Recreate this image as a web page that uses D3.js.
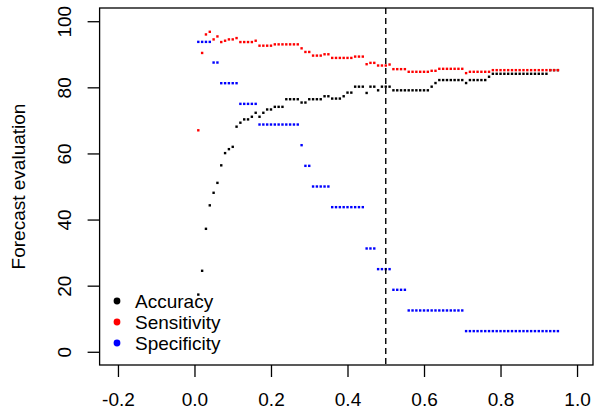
<!DOCTYPE html>
<html>
<head>
<meta charset="utf-8">
<script src="https://cdn.jsdelivr.net/npm/d3@7"></script>
<style>
  body { margin: 0; background: #fff; }
  svg { display: block; font-family: "Liberation Sans", Arial, sans-serif; }
</style>
</head>
<body>
<div id="chart"></div>
<script>
// cut-off thresholds on the x axis
var threshold = [0.01,0.02,0.03,0.04,0.05,0.06,0.07,0.08,0.09,0.10,
                 0.11,0.12,0.13,0.14,0.15,0.16,0.17,0.18,0.19,0.20,
                 0.21,0.22,0.23,0.24,0.25,0.26,0.27,0.28,0.29,0.30,
                 0.31,0.32,0.33,0.34,0.35,0.36,0.37,0.38,0.39,0.40,
                 0.41,0.42,0.43,0.44,0.45,0.46,0.47,0.48,0.49,0.50,
                 0.51,0.52,0.53,0.54,0.55,0.56,0.57,0.58,0.59,0.60,
                 0.61,0.62,0.63,0.64,0.65,0.66,0.67,0.68,0.69,0.70,
                 0.71,0.72,0.73,0.74,0.75,0.76,0.77,0.78,0.79,0.80,
                 0.81,0.82,0.83,0.84,0.85,0.86,0.87,0.88,0.89,0.90,
                 0.91,0.92,0.93,0.94,0.95]

var accuracy = [17.3,24.5,37.2,44.3,48.1,51.1,56.4,60.1,61.3,62.0,
                68.1,69.3,70.3,70.3,71.1,72.3,71.1,72.3,73.3,73.3,
                74.1,74.1,74.1,76.4,76.4,76.4,76.4,75.4,75.4,76.4,
                76.4,76.4,76.4,77.3,77.3,76.6,76.6,76.6,77.3,78.4,
                78.4,80.2,80.2,80.2,78.3,80.2,80.2,79.1,80.2,80.2,
                80.2,79.1,79.1,79.1,79.1,79.1,79.1,79.1,79.1,79.1,
                79.1,80.2,81.3,82.2,82.2,82.2,82.2,82.2,82.2,82.2,
                81.3,82.2,82.2,82.2,82.2,82.2,83.2,84.1,84.1,84.1,
                84.1,84.1,84.1,84.1,84.1,84.1,84.1,84.1,84.1,84.1,
                84.1,84.1,85.2,85.2,85.2]

var sensitivity = [67.0,90.4,96.0,96.8,94.5,95.4,93.7,94.1,94.5,94.5,
                   94.9,93.7,93.7,93.7,93.7,94.1,92.6,92.6,92.6,92.6,
                   93.0,93.0,93.0,93.0,93.0,93.0,93.0,91.8,90.7,90.7,
                   89.6,89.6,89.6,90.0,90.0,88.9,88.9,88.9,88.9,88.9,
                   88.9,89.3,89.3,89.3,87.0,87.4,87.4,86.6,86.6,86.6,
                   86.9,85.5,85.5,85.5,85.5,84.7,84.7,84.7,84.7,84.7,
                   84.7,85.0,85.0,85.6,85.6,85.6,85.6,85.6,85.6,85.6,
                   84.3,84.7,84.7,84.7,84.7,84.7,84.7,85.2,85.2,85.2,
                   85.2,85.2,85.2,85.2,85.2,85.2,85.2,85.2,85.2,85.2,
                   85.2,85.2,85.2,85.2,85.2]

var specificity = [93.75,93.75,93.75,93.75,87.5,87.5,81.25,81.25,81.25,81.25,
                   81.25,75,75,75,75,75,68.75,68.75,68.75,68.75,
                   68.75,68.75,68.75,68.75,68.75,68.75,68.75,62.5,56.25,56.25,
                   50,50,50,50,50,43.75,43.75,43.75,43.75,43.75,
                   43.75,43.75,43.75,43.75,31.25,31.25,31.25,25,25,25,
                   25,18.75,18.75,18.75,18.75,12.5,12.5,12.5,12.5,12.5,
                   12.5,12.5,12.5,12.5,12.5,12.5,12.5,12.5,12.5,12.5,
                   6.25,6.25,6.25,6.25,6.25,6.25,6.25,6.25,6.25,6.25,
                   6.25,6.25,6.25,6.25,6.25,6.25,6.25,6.25,6.25,6.25,
                   6.25,6.25,6.25,6.25,6.25]

var xTicks = [-0.2, 0.0, 0.2, 0.4, 0.6, 0.8, 1.0]
var yTicks = [0, 20, 40, 60, 80, 100]
var cutoff = 0.5

var seriesNames = ["Accuracy", "Sensitivity", "Specificity"]
var seriesColors = ["black", "red", "blue"]
var seriesValues = [accuracy, sensitivity, specificity]

var width = 594, height = 412

var svg = d3.select("#chart").append("svg")
            .attr("width", width)
            .attr("height", height)

// R style: usr range padded by 4% on each side
var x = d3.scaleLinear().domain([-0.248, 1.048]).range([99.6, 595.4])
var y = d3.scaleLinear().domain([-4, 104]).range([365, 8])

var fontSize = 19

// points, one group per series
seriesValues.forEach(function(vals, k) {
  svg.append("g")
     .selectAll("rect")
     .data(vals)
     .enter()
     .append("rect")
     .attr("x", function(d, i) { return x(threshold[i]) - 1.2 })
     .attr("y", function(d) { return y(d) - 1.2 })
     .attr("width", 2.4)
     .attr("height", 2.4)
     .attr("fill", seriesColors[k])
})

// dashed cut-off line
svg.append("line")
   .attr("x1", x(cutoff)).attr("x2", x(cutoff))
   .attr("y1", y(104)).attr("y2", y(-4))
   .attr("stroke", "black")
   .attr("stroke-width", 1.4)
   .attr("stroke-dasharray", "6,4")

// box
svg.append("rect")
   .attr("x", x(-0.248))
   .attr("y", y(104))
   .attr("width", 593 - x(-0.248))
   .attr("height", y(-4) - y(104))
   .attr("fill", "none")
   .attr("stroke", "black")
   .attr("stroke-width", 1.3)

// x axis
var xAxis = svg.append("g")
   .attr("transform", "translate(0," + y(-4) + ")")
   .call(d3.axisBottom(x).tickValues(xTicks).tickSize(12).tickPadding(16)
           .tickFormat(function(d) { return d.toFixed(1) }))
xAxis.select(".domain").remove()
xAxis.selectAll("line").attr("stroke", "black").attr("stroke-width", 1.3)
xAxis.selectAll("text").attr("font-size", fontSize).attr("fill", "black")
     .attr("font-family", "Liberation Sans, Arial, sans-serif")

// y axis, labels parallel to the axis
var yAxis = svg.append("g")
   .attr("transform", "translate(" + x(-0.248) + ",0)")
   .call(d3.axisLeft(y).tickValues(yTicks).tickSize(12))
yAxis.select(".domain").remove()
yAxis.selectAll("line").attr("stroke", "black").attr("stroke-width", 1.3)
yAxis.selectAll("text")
     .attr("x", null).attr("dy", null)
     .attr("transform", "translate(-29,0) rotate(-90)")
     .attr("text-anchor", "middle")
     .attr("font-size", fontSize).attr("fill", "black")
     .attr("font-family", "Liberation Sans, Arial, sans-serif")

// y title
svg.append("text")
   .attr("transform", "translate(25," + ((y(104) + y(-4)) / 2) + ") rotate(-90)")
   .attr("text-anchor", "middle")
   .attr("font-size", fontSize)
   .attr("fill", "black")
   .text("Forecast evaluation")

// legend, bottom left, no box
var legend = svg.append("g")
var leg = legend.selectAll("g")
   .data(seriesNames)
   .enter()
   .append("g")
   .attr("transform", function(d, i) { return "translate(117," + (301 + i * 21) + ")" })
leg.append("circle")
   .attr("r", 3.4)
   .attr("fill", function(d, i) { return seriesColors[i] })
leg.append("text")
   .attr("x", 18)
   .attr("dy", "0.35em")
   .attr("font-size", fontSize)
   .attr("fill", "black")
   .text(function(d) { return d })
</script>
</body>
</html>
